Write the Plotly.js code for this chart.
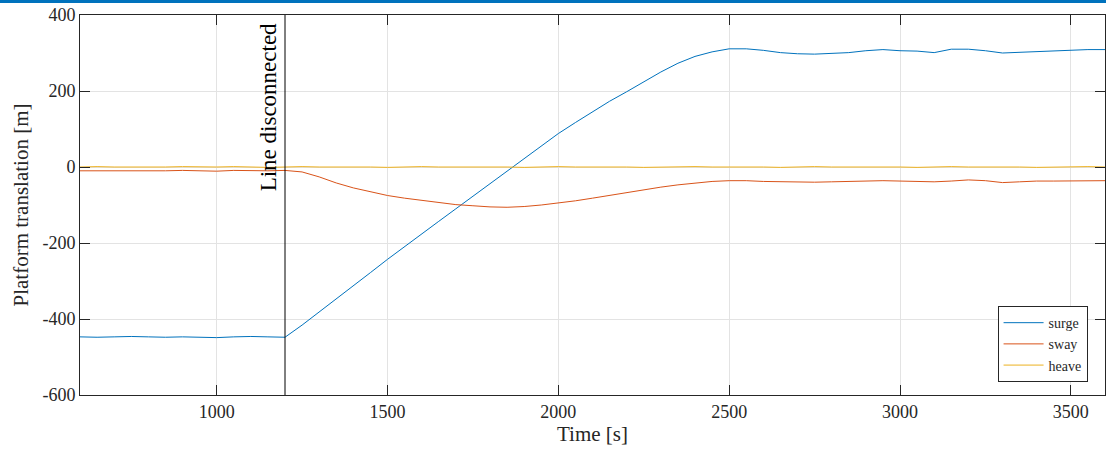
<!DOCTYPE html>
<html>
<head>
<meta charset="utf-8">
<script src="https://cdn.plot.ly/plotly-3.0.1.min.js"></script>
<style>
html,body{margin:0;padding:0;background:#fff;}
#topbar{position:absolute;left:0;top:0;width:1106px;height:3px;background:#0072BD;z-index:10;}
#chart{width:1106px;height:449px;}
</style>
</head>
<body>
<div id="topbar"></div>
<div id="chart"></div>
<script>
const time = [600,650,700,750,800,850,900,950,1000,1050,1100,1150,1200,1250,1300,1350,1400,1450,1500,1550,1600,1650,1700,1750,1800,1850,1900,1950,2000,2050,2100,2150,2200,2250,2300,2350,2400,2450,2500,2550,2600,2650,2700,2750,2800,2850,2900,2950,3000,3050,3100,3150,3200,3250,3300,3350,3400,3450,3500,3550,3600];
const surge = [-447,-448,-447,-446,-447,-448,-447,-448,-449,-447,-446,-447,-448,-416,-382,-347,-312,-278,-243,-209,-176,-143,-110,-77,-43,-10,23,56,88,117,145,173,198,224,250,273,291,303,311,311,307,301,298,297,299,301,306,309,306,305,301,310,310,306,300,302,304,306,308,309,309];
const sway = [-10,-10,-10,-10,-11,-10,-9,-10,-11,-9,-10,-10,-9,-13,-26,-42,-55,-65,-75,-82,-88,-94,-99,-102,-105,-106,-104,-100,-95,-89,-82,-75,-67,-59,-53,-47,-42,-38,-36,-36,-38,-39,-40,-40,-39,-38,-37,-36,-37,-38,-39,-37,-34,-36,-41,-39,-37,-37,-37,-36,-36];
const heave = [0,1,0,0,-1,0,1,0,0,1,0,-1,0,1,0,0,1,0,-1,0,1,0,0,1,0,0,-1,0,1,0,0,1,0,-1,0,0,1,0,0,1,0,-1,0,1,0,0,1,0,0,-1,0,1,0,0,1,0,-1,0,0,1,0];
const seriesNames = ['surge','sway','heave'];
const seriesColors = ['#0072BD','#D95319','#EDB120'];
const eventTime = 1200;
const eventLabel = 'Line disconnected';
const xTicks = [1000,1500,2000,2500,3000,3500];
const yTicks = [-600,-400,-200,0,200,400];

const font = "Liberation Serif";
const ax = '#262626';
const traces = [surge, sway, heave].map((v,i)=>({
  x: time, y: v, type:'scatter', mode:'lines', name: seriesNames[i],
  line:{color: seriesColors[i], width:1}
}));

const layout = {
  width:1106, height:449,
  margin:{l:80, r:1, t:15, b:54},
  paper_bgcolor:'#fff', plot_bgcolor:'#fff',
  font:{family:font, color:ax, size:16},
  showlegend:true,
  legend:{x:0.983, xanchor:'right', y:0.034, yanchor:'bottom', bgcolor:'#fff', bordercolor:ax, borderwidth:1,
          font:{family:font, size:14, color:ax}, tracegroupgap:0, itemwidth:40},
  xaxis:{range:[600,3600], tickvals:xTicks, ticktext:xTicks.map(String), ticks:'inside', ticklen:10, tickcolor:ax,
         showline:true, linecolor:ax, linewidth:1, mirror:'ticks', showgrid:true, gridcolor:'#e3e3e3', zeroline:false,
         tickfont:{family:font, size:18, color:ax},
         title:{text:'Time [s]', font:{family:font, size:21, color:ax}, standoff:4}},
  yaxis:{range:[-600,400], tickvals:yTicks, ticktext:yTicks.map(String), ticks:'inside', ticklen:10, tickcolor:ax,
         showline:true, linecolor:ax, linewidth:1, mirror:'ticks', showgrid:true, gridcolor:'#e3e3e3', zeroline:false,
         tickfont:{family:font, size:18, color:ax},
         title:{text:'Platform translation [m]', font:{family:font, size:21, color:ax}, standoff:8}},
  shapes:[{type:'line', xref:'x', yref:'y', x0:eventTime, x1:eventTime, y0:-600, y1:400, line:{color:'#000', width:1}}],
  annotations:[{x:eventTime, y:382, xref:'x', yref:'y', xanchor:'right', yanchor:'top', xshift:-2,
                text:eventLabel, textangle:-90, showarrow:false, font:{family:font, size:23, color:'#000'}}]
};
Plotly.newPlot('chart', traces, layout, {displayModeBar:false, staticPlot:true});
</script>
</body>
</html>
